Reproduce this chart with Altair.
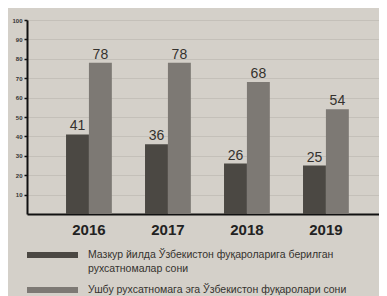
import altair as alt
import pandas as pd

years = ["2016", "2017", "2018", "2019"]
issued = [41, 36, 26, 25]
holders = [78, 78, 68, 54]
series = ["issued", "holders"]
y_ticks = [10, 20, 30, 40, 50, 60, 70, 80, 90, 100]
legend_lines1 = ["Мазкур йилда Ўзбекистон фуқароларига берилган", "рухсатномалар сони"]
legend_line2 = "Ушбу рухсатномага эга Ўзбекистон фуқаролари сони"

DARK = "#4b4843"
LIGHT = "#7d7974"
BG = "#d4d0c9"
TXT = "#35322e"

rows = []
for y, a, b in zip(years, issued, holders):
    rows.append({"year": y, "series": series[0], "value": a})
    rows.append({"year": y, "series": series[1], "value": b})
df = pd.DataFrame(rows)

W, H = 352, 194

x = alt.X("year:N", sort=years, title=None,
          scale=alt.Scale(paddingInner=0.42, paddingOuter=0.438, align=0.564),
          axis=alt.Axis(labelAngle=0, labelFont="Liberation Sans", labelFontSize=15,
                        labelFontWeight="bold", labelColor="#222", labelPadding=8,
                        ticks=False, domainColor="#111", domainWidth=2, grid=False))
y = alt.Y("value:Q", title=None,
          scale=alt.Scale(domain=[0, 100], nice=False),
          axis=alt.Axis(values=y_ticks, labelFont="Liberation Sans", labelFontSize=6,
                        labelFontWeight="bold", labelColor="#333", labelPadding=2,
                        tickSize=3, tickColor="#111", tickWidth=1.5,
                        domainColor="#111", domainWidth=2,
                        grid=True, gridColor="#c4c0b9", gridWidth=1))
xo = alt.XOffset("series:N", sort=series, scale=alt.Scale(paddingInner=0, paddingOuter=0))
color = alt.Color("series:N", sort=series,
                  scale=alt.Scale(domain=series, range=[DARK, LIGHT]), legend=None)

base = alt.Chart(df)
bars = base.mark_bar().encode(x=x, xOffset=xo, y=y, color=color)
labels = base.mark_text(baseline="bottom", dy=-1, fontSize=14, font="Liberation Sans",
                        color=TXT).encode(x=x, xOffset=xo, y=y, text="value:Q")

leg_df = pd.DataFrame({"k": [0]})
leg = alt.Chart(leg_df)
sw1 = leg.mark_rect(color=DARK).encode(x=alt.value(0), x2=alt.value(51),
                                        y=alt.value(232), y2=alt.value(238))
sw2 = leg.mark_rect(color=LIGHT).encode(x=alt.value(0), x2=alt.value(51),
                                         y=alt.value(267), y2=alt.value(273))
t1 = leg.mark_text(align="left", baseline="middle", fontSize=10.5, font="Liberation Sans",
                   color=TXT, text=legend_lines1[0]).encode(x=alt.value(61), y=alt.value(235))
t2 = leg.mark_text(align="left", baseline="middle", fontSize=10.5, font="Liberation Sans",
                   color=TXT, text=legend_lines1[1]).encode(x=alt.value(61), y=alt.value(249))
t3 = leg.mark_text(align="left", baseline="middle", fontSize=10.5, font="Liberation Sans",
                   color=TXT, text=legend_line2).encode(x=alt.value(61), y=alt.value(270))

chart = alt.layer(bars, labels, sw1, sw2, t1, t2, t3).properties(
    width=W, height=H,
    autosize=alt.AutoSizeParams(type="none"),
    padding={"left": 19, "top": 12, "right": 0, "bottom": 82},
    background=BG,
).configure_view(stroke=None)

chart.save("out.html", embed_options={"renderer": "svg", "actions": False})
